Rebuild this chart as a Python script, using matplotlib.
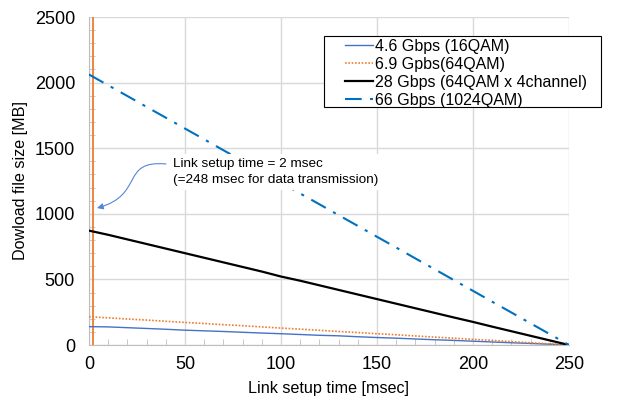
import matplotlib
matplotlib.use("Agg")
import matplotlib.pyplot as plt
from matplotlib.ticker import MultipleLocator
from matplotlib.patches import FancyArrowPatch, Rectangle
from matplotlib.path import Path

plt.rcParams['font.family'] = ['Liberation Sans', 'DejaVu Sans']

t = [0, 10, 20, 30, 40, 50, 60, 70, 80, 90, 100, 110, 120, 130, 140, 150,
     160, 170, 180, 190, 200, 210, 220, 230, 240, 250]
s46 = [140, 138, 132, 126, 120, 113, 108, 103, 97, 91, 86, 80, 74, 70, 63, 57,
       52, 46, 40, 35, 29, 23, 17, 12, 6, 0]
s69 = [215, 207, 198, 190, 181, 172, 164, 155, 147, 138, 129, 121, 112, 103, 95, 86,
       78, 69, 60, 52, 43, 35, 26, 17, 9, 0]
s28 = [872, 840, 805, 770, 735, 700, 665, 630, 595, 560, 522, 490, 455, 420, 385, 350,
       315, 280, 245, 210, 176, 140, 105, 70, 35, 0]
s66 = [2062, 1980, 1898, 1815, 1733, 1650, 1568, 1485, 1403, 1320, 1238, 1155, 1073, 990,
       908, 825, 743, 660, 578, 495, 413, 330, 248, 165, 83, 0]
labels = ["4.6 Gbps (16QAM)", "6.9 Gpbs(64QAM)", "28 Gbps (64QAM x 4channel)",
          "66 Gbps (1024QAM)"]
setup_time = 2

fig = plt.figure(figsize=(6.35, 4.0), dpi=100)
ax = fig.add_axes([0.140, 0.1375, 0.756, 0.82])

ax.axvline(setup_time, color='#ED7D31', lw=1.3, zorder=3)
ax.plot(t, s46, color='#4472C4', lw=1.0, label=labels[0], zorder=4)
ax.plot(t, s69, color='#ED7D31', lw=1.2, ls=(0, (1, 1)), label=labels[1], zorder=4)
ax.plot(t, s28, color='black', lw=1.6, label=labels[2], zorder=4)
ax.plot(t, s66, color='#0070C0', lw=1.5, ls=(0, (8, 4, 1.5, 4)), label=labels[3], zorder=4)

ax.set_xlim(0, 250)
ax.set_ylim(0, 2500)
ax.xaxis.set_major_locator(MultipleLocator(50))
ax.xaxis.set_minor_locator(MultipleLocator(10))
ax.yaxis.set_major_locator(MultipleLocator(500))
ax.yaxis.set_minor_locator(MultipleLocator(100))
ax.grid(True, which='major', color='#d9d9d9', lw=1.0, zorder=0)
ax.set_axisbelow(True)
for sp in ['top', 'right']:
    ax.spines[sp].set_visible(False)
for sp in ['left', 'bottom']:
    ax.spines[sp].set_color('#bfbfbf')
ax.tick_params(which='major', length=0, labelsize=13)
ax.tick_params(axis='x', which='major', pad=8)
ax.tick_params(axis='y', which='major', pad=10)
ax.tick_params(which='minor', direction='in', length=4, color='#bfbfbf')
ax.set_xlabel("Link setup time [msec]", fontsize=11.6, labelpad=6)
ax.set_ylabel("Dowload file size [MB]", fontsize=11.6, labelpad=5)

ax.text(44, 1320, "Link setup time = 2 msec\n(=248 msec for data transmission)",
        fontsize=9.7, va='center', ha='left', linespacing=1.45, zorder=5,
        bbox=dict(facecolor='white', edgecolor='none', pad=3))
arrow_path = Path([(40.1, 1380), (16.1, 1410), (29.2, 1143), (4.2, 1044)],
                  [Path.MOVETO, Path.CURVE4, Path.CURVE4, Path.CURVE4])
ax.add_patch(FancyArrowPatch(path=arrow_path, arrowstyle='-|>', color='#5585d8',
                             lw=0.8, mutation_scale=9, zorder=6))

box = Rectangle((324 / 635, 1 - 107 / 400), 277 / 635, 71 / 400,
                transform=fig.transFigure, facecolor='white', edgecolor='black',
                lw=0.8, clip_on=False, zorder=4.5)
ax.add_patch(box)
leg = ax.legend(loc='upper left', bbox_to_anchor=(345 / 635, 1 - 39 / 400),
                bbox_transform=fig.transFigure, fontsize=11.5,
                frameon=False, handlelength=1.75, handletextpad=0.12, borderpad=0,
                labelspacing=0.18, borderaxespad=0)
leg.set_zorder(5)

fig.savefig("out.png", dpi=100)
